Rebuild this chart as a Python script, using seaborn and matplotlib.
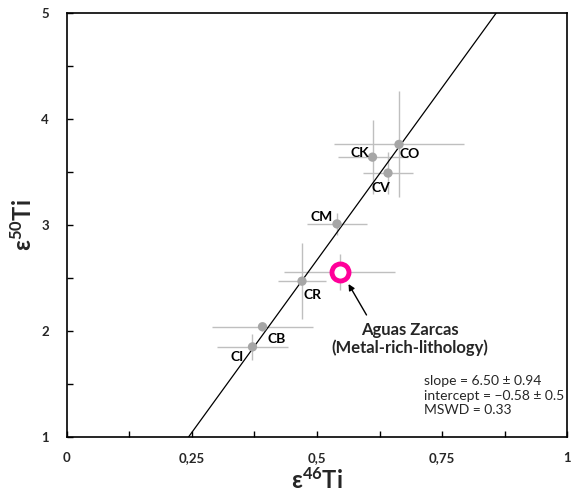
import matplotlib
matplotlib.use("Agg")
import matplotlib.pyplot as plt
import seaborn as sns
import pandas as pd

sns.set_theme(style="white")
plt.rcParams['font.family'] = ['Lato', 'DejaVu Sans']
plt.rcParams['mathtext.fontset'] = 'custom'
plt.rcParams['mathtext.rm'] = 'Lato:bold'
plt.rcParams['mathtext.bf'] = 'Lato:bold'
plt.rcParams['mathtext.it'] = 'Lato:bold'

# Data
groups = ["CI", "CB", "CR", "CM", "CV", "CK", "CO"]
e46 = [0.371, 0.391, 0.470, 0.540, 0.642, 0.611, 0.664]
e50 = [1.85, 2.04, 2.47, 3.01, 3.49, 3.64, 3.76]
e46_err = [0.070, 0.100, 0.048, 0.060, 0.050, 0.070, 0.130]
e50_err = [0.12, 0.04, 0.36, 0.10, 0.20, 0.35, 0.50]

az_name = "Aguas Zarcas\n(Metal-rich-lithology)"
az_e46 = [0.545]
az_e50 = [2.56]
az_e46_err = [0.11]
az_e50_err = [0.17]

slope = 6.50
intercept = -0.58
stats_text = "slope = 6.50 \u00b1 0.94\nintercept = \u22120.58 \u00b1 0.5\nMSWD = 0.33"

xticks = [0, 0.125, 0.25, 0.375, 0.5, 0.625, 0.75, 0.875, 1]
xticklabels = ["0", "", "0,25", "", "0,5", "", "0,75", "", "1"]
yticks = [1, 1.5, 2, 2.5, 3, 3.5, 4, 4.5, 5]
yticklabels = ["1", "", "2", "", "3", "", "4", "", "5"]

df = pd.DataFrame({"group": groups, "e46": e46, "e50": e50,
                   "xe": e46_err, "ye": e50_err})
df_az = pd.DataFrame({"e46": az_e46, "e50": az_e50})

fig = plt.figure(figsize=(5.76, 4.95), dpi=100)
ax = fig.add_axes([0.1163, 0.1172, 0.8681, 0.8566])

# error bars
ax.errorbar(df["e46"], df["e50"], xerr=df["xe"], yerr=df["ye"], fmt="none",
            ecolor="#bfbfbf", elinewidth=1.0, capsize=0, zorder=1)
ax.errorbar(az_e46, az_e50, xerr=az_e46_err, yerr=az_e50_err, fmt="none",
            ecolor="#bfbfbf", elinewidth=1.0, capsize=0, zorder=1)

# regression line
ax.axline((0, intercept), slope=slope, color="black", lw=0.9, zorder=2)

sns.scatterplot(data=df, x="e46", y="e50", ax=ax, color="#a6a6a6", s=45,
                edgecolor="none", zorder=3, legend=False)
sns.scatterplot(data=df_az, x="e46", y="e50", ax=ax, s=150, facecolor="white",
                edgecolor="#ff0099", linewidth=3.5, zorder=4, legend=False)

# labels
offsets = {"CI": (-11.2, -7.5), "CB": (9.9, -9.1), "CR": (7.9, -9.8),
           "CM": (-11.1, 5.3), "CV": (-4.8, -10.5), "CK": (-9.1, 3.2),
           "CO": (7.4, -6.7)}
for g, x, y in zip(groups, e46, e50):
    dx, dy = offsets[g]
    ax.annotate(g, (x, y), xytext=(dx, dy), textcoords="offset points",
                ha="center", va="center", fontsize=10, fontweight="bold",
                color="black")

ax.text(0.686, 1.925, az_name, ha="center", va="center", fontsize=12,
        fontweight="bold", linespacing=1.15)
ax.annotate("", xy=(0.563, 2.443), xytext=(0.599, 2.151),
            arrowprops=dict(arrowstyle="-|>", color="black", lw=1.0,
                            shrinkA=0, shrinkB=0, mutation_scale=9))

ax.text(0.714, 1.39, stats_text, ha="left", va="center", fontsize=10,
        linespacing=1.25)

ax.set_xlim(0, 1)
ax.set_ylim(1, 5)
ax.set_xticks(xticks)
ax.set_xticklabels(xticklabels, fontsize=9.5, fontweight="bold")
ax.set_yticks(yticks)
ax.set_yticklabels(yticklabels, fontsize=9.5, fontweight="bold")
ax.tick_params(axis="both", direction="in", length=4, width=1, color="black",
               bottom=True, left=True, top=False, right=False)
ax.tick_params(axis="x", pad=11)
ax.tick_params(axis="y", pad=13)

ax.set_xlabel(r"$\mathbf{\varepsilon^{46}Ti}$", fontsize=17, labelpad=2)
ax.set_ylabel(r"$\mathbf{\varepsilon^{50}Ti}$", fontsize=17, labelpad=4)

for sp in ax.spines.values():
    sp.set_visible(True)
    sp.set_color("black")
    sp.set_linewidth(1.2)
ax.grid(False)

fig.savefig("out.png", dpi=100)
